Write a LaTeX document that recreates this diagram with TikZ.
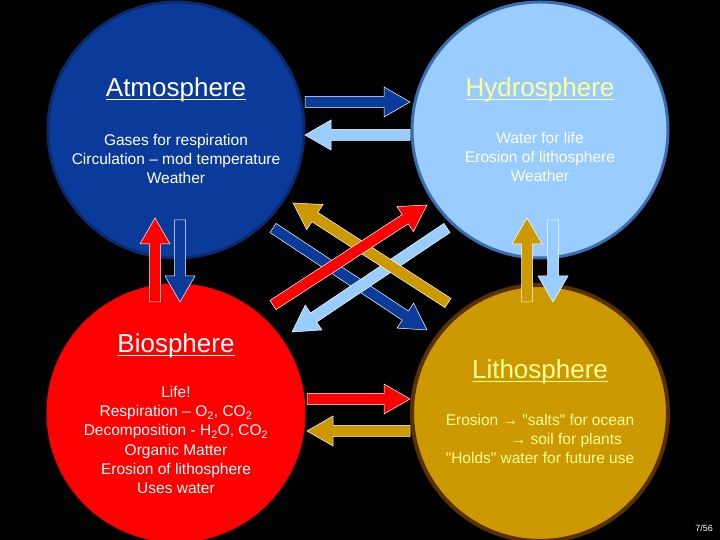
\documentclass[tikz,border=0pt]{standalone}
\usepackage{fontspec}
\setmainfont{Liberation Sans}
\definecolor{atm}{HTML}{0A3A9A}
\definecolor{atmline}{HTML}{0A2A70}
\definecolor{hyd}{HTML}{99CCFF}
\definecolor{hydline}{HTML}{3A6EB0}
\definecolor{bio}{HTML}{FF0000}
\definecolor{lit}{HTML}{CC9900}
\definecolor{litline}{HTML}{5A3000}
\definecolor{ttl}{HTML}{FFFF99}
\newcommand\fatarrow[5]{%
 \pgfmathsetmacro\fax{#4-#2}\pgfmathsetmacro\fay{#3-#5}%
 \pgfmathsetmacro\ang{atan2(\fay,\fax)}%
 \pgfmathsetmacro\len{veclen(\fax,\fay)}%
 \begin{scope}[shift={(#2pt,540pt-#3pt)},rotate=\ang,x=1pt,y=1pt]
 \filldraw[fill=#1,draw=white,line width=0.5pt] (0,-5.5)--(\len-26,-5.5)--(\len-26,-15)--(\len,0)--(\len-26,15)--(\len-26,5.5)--(0,5.5)--cycle;
 \end{scope}}
\newcommand\ul[1]{\setbox0\hbox{#1}\rlap{\rule[-3pt]{\wd0}{1.2pt}}\box0}
\tikzset{
 sphere/.style={circle,minimum size=256pt,inner sep=0pt,line width=3pt},
 title/.style={font=\fontsize{26}{30}\selectfont,inner sep=1pt},
 body/.style={font=\fontsize{15.5}{19.2}\selectfont,align=center,inner sep=0pt},
}
\begin{document}
\begin{tikzpicture}[x=1pt,y=1pt]
\fill[black] (0,0) rectangle (720,540);
\useasboundingbox (0,0) rectangle (720,540);
\node[sphere,fill=atm,draw=atmline] (atm) at (176,410) {};
\node[sphere,fill=hyd,draw=hydline] (hyd) at (540,410) {};
\node[sphere,fill=bio,draw=bio] (bio) at (176,127) {};
\node[sphere,fill=lit,draw=litline,line width=4pt] (lit) at (540,127) {};
\node[title,white] (atmt) at (176,450) {\ul{Atmosphere}};
\node[body,white] (atmb) at (176,381) {Gases for respiration\\Circulation -- mod temperature\\Weather};
\node[title,ttl] (hydt) at (540,450) {\ul{Hydrosphere}};
\node[body,white] (hydb) at (540,383) {Water for life\\Erosion of lithosphere\\Weather};
\node[title,white] (biot) at (176,194) {\ul{Biosphere}};
\node[body,white] (biob) at (176,100) {Life!\\Respiration -- O\textsubscript{2}, CO\textsubscript{2}\\Decomposition - H\textsubscript{2}O, CO\textsubscript{2}\\Organic Matter\\Erosion of lithosphere\\Uses water};
\node[title,ttl] (litt) at (540,168) {\ul{Lithosphere}};
\node[body,ttl] (litb) at (540,101) {Erosion → \textquotedbl salts\textquotedbl{} for ocean\\\hspace*{3.4em}→ soil for plants\\\textquotedbl Holds\textquotedbl{} water for future use};
\node[white,font=\fontsize{9}{10}\selectfont] (pg) at (704,12) {7/56};
\fatarrow{atm}{305}{102}{410}{102}
\fatarrow{hyd}{410}{135}{305}{135}
\fatarrow{bio}{307}{399}{410}{399}
\fatarrow{lit}{410}{431}{307}{431}
\fatarrow{bio}{155}{302}{155}{218}
\fatarrow{atm}{180}{220}{180}{302}
\fatarrow{lit}{527}{302}{527}{218}
\fatarrow{hyd}{553}{220}{553}{302}
\fatarrow{atm}{273}{228}{427}{330}
\fatarrow{hyd}{447}{228}{292}{332}
\fatarrow{lit}{448}{303}{293}{203}
\fatarrow{bio}{273}{305}{427}{205}
\end{tikzpicture}
\end{document}
